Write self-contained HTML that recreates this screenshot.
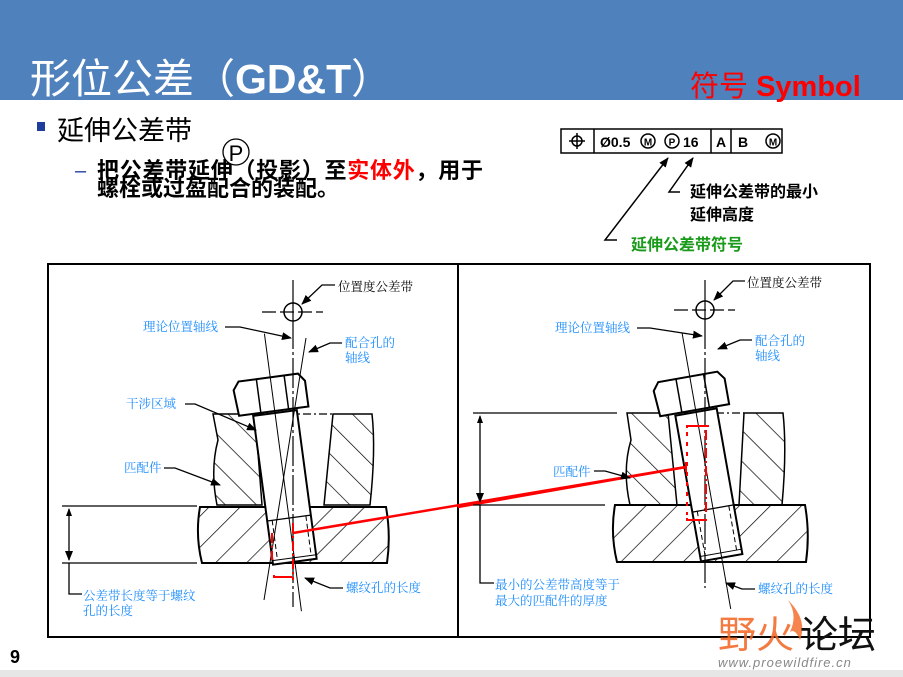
<!DOCTYPE html>
<html><head><meta charset="utf-8"><style>
html,body{margin:0;padding:0;background:#fff}
svg{display:block}
.cj{font-family:"Liberation Sans","Noto Sans CJK SC",sans-serif}
.se{font-family:"Liberation Serif","Noto Serif CJK SC",serif}
</style></head><body>
<svg width="903" height="677" viewBox="0 0 903 677" xmlns="http://www.w3.org/2000/svg">
<defs>
<pattern id="h" width="22" height="22" patternUnits="userSpaceOnUse" patternTransform="rotate(-45)">
<line x1="0" y1="0" x2="0" y2="22" stroke="#000" stroke-width="1.4"/></pattern>
<pattern id="h2" width="22" height="22" patternUnits="userSpaceOnUse" patternTransform="rotate(45)">
<line x1="0" y1="0" x2="0" y2="22" stroke="#000" stroke-width="1.4"/></pattern>
<marker id="a" markerWidth="10" markerHeight="8" refX="9" refY="4" orient="auto" markerUnits="userSpaceOnUse"><path d="M0,0 L10,4 L0,8 z" fill="#000"/></marker>
<marker id="a2" markerWidth="8" markerHeight="6" refX="1" refY="3" orient="auto" markerUnits="userSpaceOnUse"><path d="M8,0 L0,3 L8,6 z" fill="#000"/></marker>
</defs>
<rect width="903" height="677" fill="#fff"/>
<rect x="0" y="0" width="903" height="100" fill="#4f81bd"/>
<rect x="0" y="670" width="903" height="7" fill="#e6e6e6"/>
<text x="30" y="93" class="cj" font-size="41" fill="#fff">形位公差（<tspan font-weight="bold">GD&amp;T</tspan>）</text>
<text x="690" y="96" class="cj" font-size="29" fill="#f00">符号 <tspan font-weight="bold">Symbol</tspan></text>

<rect x="37" y="122" width="8" height="9" fill="#1f3d9a"/>
<text x="57" y="140" class="cj" font-size="27" fill="#000">延伸公差带</text>
<text x="75" y="177" class="cj" font-size="20" fill="#1f3d9a">–</text>
<text x="97" y="178" class="cj" font-size="22" font-weight="bold" fill="#000" textLength="386">把公差带延伸（投影）至<tspan fill="#f00">实体外</tspan>，用于</text>
<text x="97" y="196" class="cj" font-size="22" font-weight="bold" fill="#000">螺栓或过盈配合的装配。</text>
<circle cx="236" cy="152" r="13" fill="#fff" stroke="#000" stroke-width="1.3"/>
<text x="236" y="161" class="cj" font-size="22" text-anchor="middle">P</text>

<g stroke="#000" stroke-width="1.5" fill="none">
<rect x="561" y="129" width="221" height="24"/>
<line x1="594" y1="129" x2="594" y2="153"/><line x1="711" y1="129" x2="711" y2="153"/><line x1="731" y1="129" x2="731" y2="153"/>
<circle cx="577" cy="141" r="5"/><line x1="569" y1="141" x2="585" y2="141"/><line x1="577" y1="133" x2="577" y2="149"/>
<circle cx="648" cy="141" r="7"/><circle cx="672" cy="141" r="7"/><circle cx="773" cy="141" r="7"/>
</g>
<g class="cj" font-weight="bold" font-size="14">
<text x="600" y="147">Ø0.5</text>
<text x="648" y="145.5" font-size="10" text-anchor="middle">M</text>
<text x="672" y="145.5" font-size="10" text-anchor="middle">P</text>
<text x="683" y="147">16</text>
<text x="716" y="147">A</text>
<text x="738" y="147">B</text>
<text x="773" y="145.5" font-size="10" text-anchor="middle">M</text>
</g>
<g stroke="#000" stroke-width="1.5" fill="none">
<polyline points="617,240 605,240 668,158" marker-end="url(#a)"/>
<polyline points="680,192 669,192 693,158" marker-end="url(#a)"/>
</g>
<text x="690" y="197" class="cj" font-size="16" font-weight="bold">延伸公差带的最小</text>
<text x="690" y="220" class="cj" font-size="16" font-weight="bold">延伸高度</text>
<text x="631" y="250" class="cj" font-size="16" font-weight="bold" fill="#1a9a1a">延伸公差带符号</text>

<g stroke="#000" stroke-width="2" fill="none">
<rect x="48" y="264" width="822" height="373"/>
<line x1="458" y1="264" x2="458" y2="637"/>
</g>

<!-- LEFT DIAGRAM -->
<g>
<path d="M213,414 H255 L262,505 H217 Q210,470 218,440 Z" fill="url(#h)" stroke="#000" stroke-width="1.5"/>
<path d="M333,414 H372 Q376,450 370,505 H324 Z" fill="url(#h)" stroke="#000" stroke-width="1.5"/>
<line x1="255" y1="414" x2="333" y2="414" stroke="#000" stroke-width="1.2" stroke-dasharray="8,3,2,3"/>
<path d="M200,507 H386 Q391,535 387,563 H202 Q195,535 200,507 Z" fill="url(#h2)" stroke="#000" stroke-width="2"/>
<g transform="translate(275,413) rotate(-7.6)">
<rect x="-22" y="0" width="44" height="150" fill="#fff" stroke="#000" stroke-width="2"/>
<line x1="-22" y1="106" x2="22" y2="106" stroke="#000" stroke-width="1.3"/>
<line x1="-17" y1="106" x2="-17" y2="146" stroke="#000" stroke-width="1" stroke-dasharray="5,3"/>
<line x1="17" y1="106" x2="17" y2="146" stroke="#000" stroke-width="1" stroke-dasharray="5,3"/>
<line x1="-22" y1="146" x2="22" y2="146" stroke="#000" stroke-width="1"/>
<path d="M-36,-2 L-38,-28 L-32,-36 L28,-36 L34,-28 L34,-2 Z" fill="#fff" stroke="#000" stroke-width="2"/>
<line x1="-14" y1="-36" x2="-14" y2="-2" stroke="#000" stroke-width="1.5"/>
<line x1="14" y1="-36" x2="14" y2="-2" stroke="#000" stroke-width="1.5"/>
<line x1="0" y1="-80" x2="0" y2="200" stroke="#000" stroke-width="1"/>
</g>
<line x1="293" y1="280" x2="293" y2="607" stroke="#000" stroke-width="1.2" stroke-dasharray="30,3,3,3"/>
<line x1="306" y1="338" x2="264" y2="600" stroke="#000" stroke-width="1"/>
<circle cx="293" cy="312" r="9" fill="#fff" stroke="#000" stroke-width="1.5"/>
<line x1="262" y1="312" x2="323" y2="312" stroke="#000" stroke-width="1.2" stroke-dasharray="14,4"/>
<line x1="293" y1="303" x2="293" y2="321" stroke="#000" stroke-width="1.2"/>
<g stroke="#f00" stroke-width="2" fill="none">
<line x1="272" y1="533" x2="272" y2="560" stroke-dasharray="10,3,2,3"/>
<line x1="293" y1="523" x2="293" y2="580" stroke-dasharray="10,3,2,3"/>
<polyline points="274,575 274,577 292,577"/>
<line x1="293" y1="533" x2="686" y2="467" stroke-width="2.5"/>
</g>
<g stroke="#000" stroke-width="1.3" fill="none">
<polyline points="335,285 322,285 302,304" marker-end="url(#a)"/>
<polyline points="225,327 240,327 291,338" marker-end="url(#a)"/>
<polyline points="342,343 330,343 309,352" marker-end="url(#a)"/>
<polyline points="185,404 195,404 256,430" marker-end="url(#a)"/>
<polyline points="164,468 175,468 220,485" marker-end="url(#a)"/>
<polyline points="343,588 330,588 305,578" marker-end="url(#a)"/>
<line x1="62" y1="506" x2="197" y2="506"/><line x1="62" y1="563" x2="197" y2="563"/>
<line x1="69" y1="509" x2="69" y2="560" marker-start="url(#a2)" marker-end="url(#a)"/>
<polyline points="69,563 69,594 82,594"/>
</g>
<g class="se" font-size="12.5" fill="#1a8cff">
<text x="338" y="291" fill="#000">位置度公差带</text>
<text x="143" y="331">理论位置轴线</text>
<text x="345" y="347">配合孔的</text>
<text x="345" y="362">轴线</text>
<text x="126" y="408">干涉区域</text>
<text x="124" y="472">匹配件</text>
<text x="346" y="592">螺纹孔的长度</text>
<text x="83" y="600">公差带长度等于螺纹</text>
<text x="83" y="615">孔的长度</text>
</g>
</g>

<!-- RIGHT DIAGRAM -->
<g>
<path d="M627,413 H668 L677,505 H630 Q622,470 631,440 Z" fill="url(#h)" stroke="#000" stroke-width="1.5"/>
<path d="M744,413 H783 Q787,450 782,505 H739 Z" fill="url(#h)" stroke="#000" stroke-width="1.5"/>
<line x1="668" y1="413" x2="744" y2="413" stroke="#000" stroke-width="1.2" stroke-dasharray="8,3,2,3"/>
<path d="M615,505 H805 Q810,533 806,562 H617 Q610,533 615,505 Z" fill="url(#h2)" stroke="#000" stroke-width="2"/>
<line x1="677" y1="505" x2="740" y2="505" stroke="#000" stroke-width="1.2" stroke-dasharray="8,3"/>
<g transform="translate(696,412) rotate(-10)">
<rect x="-21" y="0" width="42" height="148" fill="#fff" stroke="#000" stroke-width="2"/>
<line x1="-21" y1="98" x2="21" y2="98" stroke="#000" stroke-width="1.3"/>
<line x1="-16" y1="98" x2="-16" y2="144" stroke="#000" stroke-width="1" stroke-dasharray="5,3"/>
<line x1="16" y1="98" x2="16" y2="144" stroke="#000" stroke-width="1" stroke-dasharray="5,3"/>
<line x1="-21" y1="143" x2="21" y2="143" stroke="#000" stroke-width="1"/>
<path d="M-36,-2 L-38,-28 L-32,-36 L28,-36 L34,-28 L34,-2 Z" fill="#fff" stroke="#000" stroke-width="2"/>
<line x1="-14" y1="-36" x2="-14" y2="-2" stroke="#000" stroke-width="1.5"/>
<line x1="14" y1="-36" x2="14" y2="-2" stroke="#000" stroke-width="1.5"/>
<line x1="0" y1="-80" x2="0" y2="200" stroke="#000" stroke-width="1"/>
</g>
<line x1="705" y1="280" x2="705" y2="588" stroke="#000" stroke-width="1.2" stroke-dasharray="30,3,3,3"/>
<circle cx="705" cy="310" r="9" fill="#fff" stroke="#000" stroke-width="1.5"/>
<line x1="674" y1="310" x2="735" y2="310" stroke="#000" stroke-width="1.2" stroke-dasharray="14,4"/>
<line x1="705" y1="301" x2="705" y2="319" stroke="#000" stroke-width="1.2"/>
<g stroke="#f00" stroke-width="2" fill="none">
<polyline points="687,428 687,426 709,426"/>
<line x1="687" y1="432" x2="687" y2="515" stroke-dasharray="4,6"/>
<line x1="706" y1="430" x2="706" y2="515" stroke-dasharray="10,3,2,3"/>
<polyline points="687,518 687,520 707,520"/>
<line x1="458" y1="507" x2="686" y2="467" stroke-width="2.5"/>
<line x1="686" y1="462" x2="686" y2="472"/>
</g>
<g stroke="#000" stroke-width="1.3" fill="none">
<polyline points="745,281 733,281 714,300" marker-end="url(#a)"/>
<polyline points="637,328 650,328 702,336" marker-end="url(#a)"/>
<polyline points="752,340 740,340 718,349" marker-end="url(#a)"/>
<polyline points="594,471 605,471 630,478" marker-end="url(#a)"/>
<polyline points="755,589 742,589 726,583" marker-end="url(#a)"/>
<line x1="473" y1="413" x2="617" y2="413"/><line x1="473" y1="505" x2="605" y2="505"/>
<line x1="480" y1="416" x2="480" y2="502" marker-start="url(#a2)" marker-end="url(#a)"/>
<polyline points="480,505 480,583 494,583"/>
</g>
<g class="se" font-size="12.5" fill="#1a8cff">
<text x="747" y="287" fill="#000">位置度公差带</text>
<text x="555" y="332">理论位置轴线</text>
<text x="755" y="345">配合孔的</text>
<text x="755" y="360">轴线</text>
<text x="553" y="476">匹配件</text>
<text x="758" y="593">螺纹孔的长度</text>
<text x="495" y="589">最小的公差带高度等于</text>
<text x="495" y="605">最大的匹配件的厚度</text>
</g>
</g>

<path d="M788,600 Q808,620 800,640 Q795,628 790,632 Q798,615 788,600 Z" fill="#f26522" opacity="0.8"/>
<text x="718" y="648" class="cj" font-size="38" fill="#f26522" opacity="0.85">野火</text>
<text x="800" y="648" class="cj" font-size="38" fill="#111">论坛</text>
<text x="718" y="667" class="cj" font-size="13" font-style="italic" fill="#888" letter-spacing="1">www.proewildfire.cn</text>
<text x="10" y="663" class="cj" font-size="18" font-weight="bold">9</text>
</svg>
</body></html>
